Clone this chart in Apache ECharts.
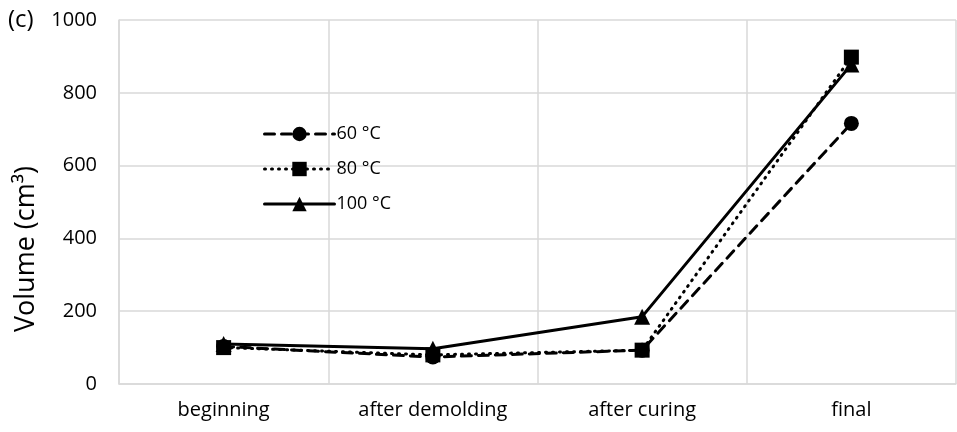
<!DOCTYPE html>
<html>
<head>
<meta charset="utf-8">
<script src="https://cdn.jsdelivr.net/npm/echarts@6/dist/echarts.min.js"></script>
<style>
  html, body { margin: 0; padding: 0; background: #fff; }
  #chart { width: 957px; height: 432px; }
</style>
</head>
<body>
<div id="chart"></div>
<script>
// stages and volumes (cm³)
const stages = ['beginning', 'after demolding', 'after curing', 'final']
const vol60 = [103, 74, 93, 716]
const vol80 = [100, 80, 93, 898]
const vol100 = [110, 97, 185, 878]
const yTicks = [0, 200, 400, 600, 800, 1000]

const FONT = '"Open Sans", "Noto Sans", sans-serif'
const GRID_GREY = '#d9d9d9'

const chart = echarts.init(document.getElementById('chart'), null, { renderer: 'canvas' })

function line(name, data, symbol, lineType) {
  return {
    name,
    type: 'line',
    data,
    symbol,
    symbolSize: symbol === 'triangle' ? 16 : 15,
    showSymbol: true,
    animation: false,
    itemStyle: { color: '#000' },
    lineStyle: { color: '#000', width: 3, type: lineType, cap: 'round' },
  }
}

chart.setOption({
  backgroundColor: '#fff',
  textStyle: { fontFamily: FONT },
  grid: { left: 119, right: 1, top: 20, bottom: 48 },
  graphic: [
    {
      type: 'text',
      left: 8,
      top: 8,
      style: { text: '(c)', fontSize: 24, fill: '#000', fontFamily: FONT },
    },
    {
      // axis title sits lower than the axis middle in the original
      type: 'text',
      x: 26,
      y: 249,
      rotation: Math.PI / 2,
      style: {
        text: 'Volume (cm³)',
        fontSize: 27,
        fill: '#000',
        fontFamily: FONT,
        align: 'center',
        verticalAlign: 'middle',
      },
    },
  ],
  legend: {
    orient: 'vertical',
    left: 258,
    top: 120,
    itemWidth: 70,
    itemHeight: 18,
    itemGap: 17,
    lineStyle: { width: 3 },
    textStyle: { fontSize: 18, color: '#000', fontFamily: FONT, padding: [0, 0, 0, -3] },
    data: ['60 °C', '80 °C', '100 °C'],
  },
  xAxis: {
    type: 'category',
    data: stages,
    boundaryGap: true,
    axisLine: { show: true, lineStyle: { color: GRID_GREY, width: 1.5 } },
    axisTick: { show: false },
    splitLine: { show: true, lineStyle: { color: GRID_GREY, width: 1.5 } },
    axisLabel: { color: '#000', fontSize: 20, margin: 16, fontFamily: FONT },
  },
  yAxis: {
    type: 'value',
    min: yTicks[0],
    max: yTicks[yTicks.length - 1],
    interval: 200,
    axisLine: { show: true, lineStyle: { color: GRID_GREY, width: 1.5 } },
    axisTick: { show: false },
    splitLine: { show: true, lineStyle: { color: GRID_GREY, width: 1.5 } },
    axisLabel: { color: '#000', fontSize: 20, margin: 22, fontFamily: FONT, formatter: (v) => String(v) },
  },
  series: [
    line('60 °C', vol60, 'circle', [10, 7]),
    line('80 °C', vol80, 'rect', [1, 6]),
    line('100 °C', vol100, 'triangle', 'solid'),
  ],
})
</script>
</body>
</html>
